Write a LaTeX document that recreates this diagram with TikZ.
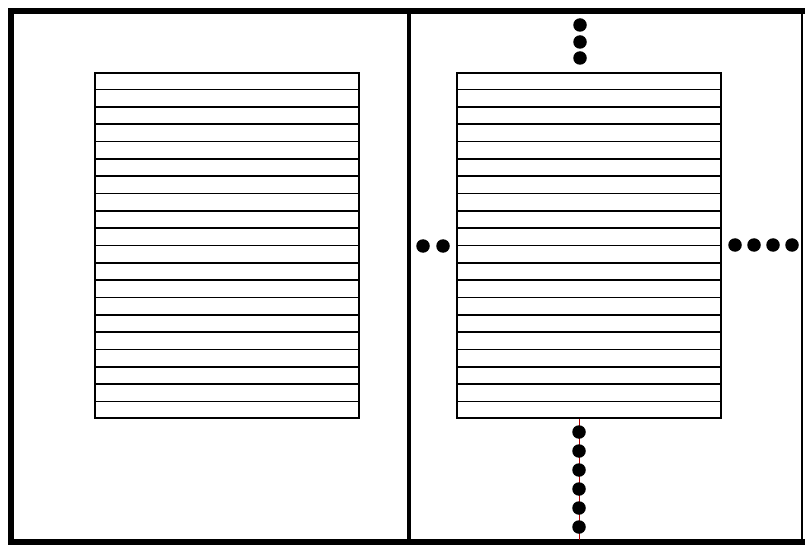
\documentclass[tikz,border=0pt]{standalone}
\usetikzlibrary{positioning,calc}

\begin{document}
\begin{tikzpicture}[
  x=1pt,y=-1pt,
  sheet/.style={draw,line width=1.8pt,inner sep=0pt,minimum width=264pt,minimum height=345pt},
  rule/.style={line width=1.8pt},
  dot/.style={circle,fill,inner sep=0pt,minimum size=13.5pt}
]
\useasboundingbox (0,0) rectangle (805,545);
% frame and fold
\draw[line width=6pt] (805,11) -- (11,11) -- (11,542) -- (805,542);
\draw[line width=1.5pt] (802,11) -- (802,542);
\draw[line width=4pt] (409,11) -- (409,542);
% the two pages
\node[sheet] (lsheet) at (227,245.5) {};
\node[sheet] (rsheet) at (589,245.5) {};
\foreach \s in {lsheet,rsheet}
  \foreach \i in {1,...,19}
    \draw[rule] ($(\s.north west)!\i/20!(\s.south west)$) -- ($(\s.north east)!\i/20!(\s.south east)$);
% dots round the right page
\foreach \i/\y in {1/25,2/42,3/58}
  \node[dot] (top\i) at (580,\y) {};
\foreach \i/\x in {1/423,2/443}
  \node[dot] (left\i) at (\x,246) {};
\foreach \i/\x in {1/735,2/754,3/773,4/792}
  \node[dot] (right\i) at (\x,245) {};
\coordinate (foot) at (579,540);
\draw[red!70!black,line width=0.8pt] (foot |- rsheet.south) -- (foot);
\foreach \i/\y in {1/432,2/451,3/470,4/489,5/508,6/527}
  \node[dot] (bottom\i) at (579,\y) {};
\end{tikzpicture}
\end{document}
